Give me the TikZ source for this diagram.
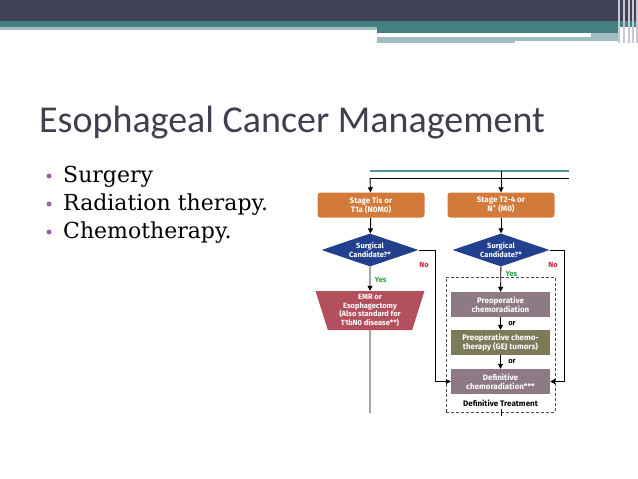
\documentclass[tikz,border=0pt]{standalone}
\usepackage{fontspec}
\setmainfont{DejaVu Serif}
\setsansfont{Fira Sans}
\newfontfamily\titlefont{Carlito}
\usepackage{xcolor}
\usepackage{tikz}
\usetikzlibrary{
  arrows.meta,
  positioning,
  shapes.geometric
}
\definecolor{bandslate}{RGB}{65,66,86}
\definecolor{bandteal}{RGB}{68,127,129}
\definecolor{bandlight}{RGB}{160,190,194}
\definecolor{bandstripe}{RGB}{200,200,214}
\definecolor{titlegray}{RGB}{63,63,78}
\definecolor{bulletpurple}{RGB}{160,100,160}
\definecolor{stageorange}{RGB}{210,122,58}
\definecolor{decideblue}{RGB}{35,64,142}
\definecolor{surgred}{RGB}{178,80,94}
\definecolor{chemomauve}{RGB}{142,122,132}
\definecolor{chemoolive}{RGB}{125,122,90}
\definecolor{noredtext}{RGB}{208,32,58}
\definecolor{yesgreen}{RGB}{47,158,63}
\definecolor{lineteal}{RGB}{80,150,150}

\begin{document}
\begin{tikzpicture}[x=1pt,y=-1pt,
  stagebox/.style={rounded corners=3pt,fill=stageorange,minimum width=107pt,
               minimum height=25pt,font=\sffamily\bfseries\fontsize{8}{9}\selectfont,
               text=white,align=center,inner sep=1pt},
  decide/.style={diamond,fill=decideblue,minimum width=97pt,minimum height=33pt,
               aspect=2.9,inner sep=0pt,text=white,align=center,
               font=\sffamily\bfseries\fontsize{7.5}{8.5}\selectfont},
  surg/.style={trapezium,trapezium angle=70,shape border rotate=180,
               trapezium stretches body,fill=surgred,minimum width=109pt,
               minimum height=39pt,inner sep=1pt,text=white,align=center,
               font=\sffamily\bfseries\fontsize{7.5}{8.5}\selectfont},
  treat/.style={fill=#1,minimum width=99pt,minimum height=25pt,inner sep=1pt,
               text=white,align=center,font=\sffamily\bfseries\fontsize{8}{9}\selectfont},
  dashbox/.style={draw=black!70,densely dashed,line width=0.6pt,minimum width=109pt,
               minimum height=135pt},
  tag/.style={font=\sffamily\bfseries\fontsize{7.5}{8.5}\selectfont},
  arr/.style={-{Triangle[length=5pt,width=5pt]},line width=0.9pt},
  plain/.style={line width=0.9pt},
  bulletdot/.style={circle,fill=bulletpurple,inner sep=0pt,minimum size=5pt},
  item/.style={anchor=base west,inner sep=0pt,font=\fontsize{22}{26}\selectfont},
]
\useasboundingbox (0,0) rectangle (638,479);

% header bands
\fill[bandslate] (0,0) rectangle (638,21);
\fill[bandteal]  (0,21) rectangle (638,27);
\fill[bandlight] (0,27) rectangle (377,30);
\fill[bandteal]  (377,27) rectangle (620,33);
\fill[bandlight] (377,37) rectangle (620,43);
\fill[bandlight] (591,33) rectangle (620,37);
\fill[white]     (515,41) rectangle (620,43);
\foreach \xs in {618,623,628,632,636}
  \fill[bandstripe] (\xs,0) rectangle ++(2,43);

% title and bullets
\node[anchor=base west,inner sep=0pt,text=titlegray,
      font=\titlefont\fontsize{38}{40}\selectfont] (title) at (39,132)
  {Esophageal Cancer Management};
\node[bulletdot] (b1) at (49,176) {};
\node[bulletdot] (b2) at (49,204) {};
\node[bulletdot] (b3) at (49,232) {};
\node[item] (i1) at (63,182) {Surgery};
\node[item] (i2) at (63,210) {Radiation therapy.};
\node[item] (i3) at (63,238) {Chemotherapy.};

% flow chart
\coordinate (topl) at (370,171);
\coordinate (topr) at (569,171);
\coordinate (brl)  at (370,178);
\coordinate (brr)  at (569,178);
\coordinate (brm)  at (501,171);

\node[stagebox] (st1) at (371,205) {Stage Tis or\\T1a (N0M0)};
\node[stagebox] (st2) at (501,205) {Stage T2-4 or\\N\textsuperscript{+} (M0)};

\node[decide] (dm1) at (370,250) {Surgical\\Candidate?*};
\node[decide] (dm2) at (501,250) {Surgical\\Candidate?*};

\node[surg] (emr) at (370,310.5) {EMR or\\Esophagectomy\\(Also standard for\\T1bN0 disease**)};

\node[dashbox] (dt) at (500.5,344.5) {};
\node[treat=chemomauve] (pre)  at (500.5,304.5) {Preoperative\\chemoradiation};
\node[treat=chemoolive] (chem) at (500.5,342.5) {Preoperative chemo-\\therapy (GEJ tumors)};
\node[treat=chemomauve] (defc) at (500.5,381.5) {Definitive\\chemoradiation***};
\node[tag,font=\sffamily\bfseries\fontsize{8}{9}\selectfont] (dtlab) at (500.5,403) {Definitive Treatment};

\coordinate (emrend) at (370,413);
\coordinate (nol) at (435,250);
\coordinate (nor) at (564,250);
\coordinate (tickt) at (501,409);
\coordinate (tickb) at (501,416);

\draw[lineteal,line width=1.2pt] (topl) -- (topr);
\draw[plain] (brr) -- (brl);
\draw[arr] (brl) -- (st1);
\draw[arr] (brm) -- (st2);
\draw[arr] (st1) -- (dm1);
\draw[arr] (st2) -- (dm2);
\draw[arr] (dm1) -- node[tag,text=yesgreen,right=1pt,pos=0.55] (y1) {Yes} (emr);
\draw[arr] (dm2) -- node[tag,text=yesgreen,right=1pt,pos=0.3] (y2) {Yes} (pre);
\draw[arr] (pre) -- node[tag,right=4pt] (or1) {or} (chem);
\draw[arr] (chem) -- node[tag,right=4pt] (or2) {or} (defc);
\draw[plain] (emr.south) -- (emrend);
\draw[arr] (dm1.east) -- (nol) |- (defc.west);
\draw[arr] (dm2.east) -- (nor) |- (defc.east);
\draw[plain,line width=0.6pt] (tickt) -- (tickb);
\node[tag,text=noredtext] (no1) at (424,265) {No};
\node[tag,text=noredtext] (no2) at (553,265) {No};
\end{tikzpicture}
\end{document}
